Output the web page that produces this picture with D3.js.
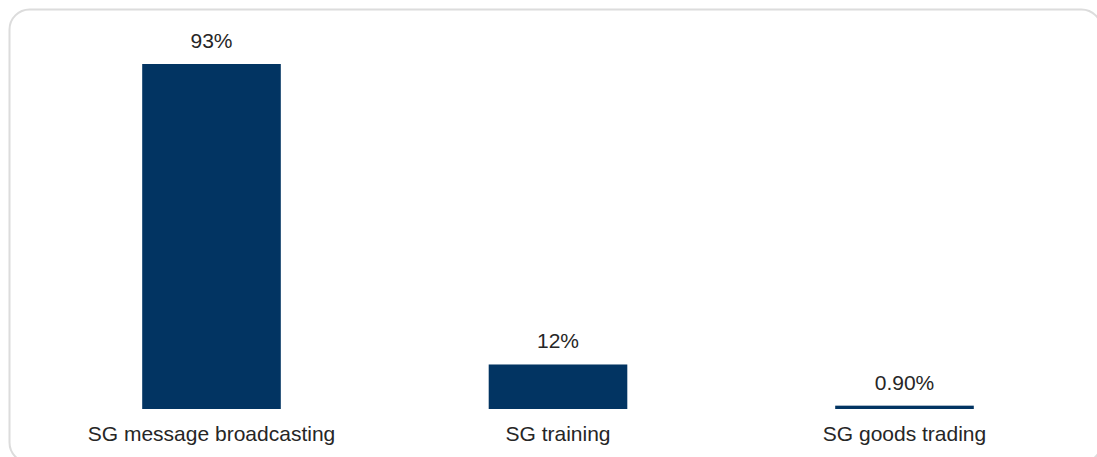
<!DOCTYPE html>
<html>
<head>
<meta charset="utf-8">
<script src="https://cdn.jsdelivr.net/npm/d3@7"></script>
<style>
  html, body { margin: 0; padding: 0; background: #fff; overflow: hidden; }
  svg { display: block; }
</style>
</head>
<body>
<div id="chart"></div>
<script>
// chart data
const categories = ["SG message broadcasting", "SG training", "SG goods trading"];
const values = [93, 12, 0.9];
const valueLabels = ["93%", "12%", "0.90%"];

// layout
const WIDTH = 1097;
const HEIGHT = 457;
const BASELINE = 409;
const TOP = 64;
const FONT = "'Liberation Sans', Arial, sans-serif";

const svg = d3.select("#chart")
    .append("svg")
    .attr("width", WIDTH)
    .attr("height", HEIGHT);

// rounded frame (runs off the right and bottom edges)
svg.append("rect")
    .attr("x", 9.5)
    .attr("y", 9.5)
    .attr("width", 1092)
    .attr("height", 453)
    .attr("rx", 20)
    .attr("fill", "#fff")
    .attr("stroke", "#dcdcdc")
    .attr("stroke-width", 2);

const xScale = d3.scaleBand()
    .domain(categories)
    .range([38.25, 1077.75])
    .paddingInner(0.6)
    .paddingOuter(0.3);

const yScale = d3.scaleLinear()
    .domain([0, 93])
    .range([BASELINE, TOP]);

const data = categories.map((c, i) => ({ cat: c, v: values[i], label: valueLabels[i] }));

// bars
svg.selectAll(".bar")
    .data(data)
    .enter()
    .append("rect")
    .attr("class", "bar")
    .attr("x", d => xScale(d.cat))
    .attr("width", xScale.bandwidth())
    .attr("y", d => yScale(d.v))
    .attr("height", d => Math.max(2, BASELINE - yScale(d.v)))
    .attr("fill", "#023462");

// value labels
svg.selectAll(".val")
    .data(data)
    .enter()
    .append("text")
    .attr("class", "val")
    .attr("x", d => xScale(d.cat) + xScale.bandwidth() / 2)
    .attr("y", d => Math.min(yScale(d.v), BASELINE - 2) - 16)
    .attr("text-anchor", "middle")
    .attr("font-family", FONT)
    .attr("font-size", 21)
    .attr("fill", "#262626")
    .text(d => d.label);

// category axis labels
const xAxis = d3.axisBottom(xScale).tickSize(0).tickPadding(17);
const gx = svg.append("g")
    .attr("transform", `translate(0, ${BASELINE})`)
    .call(xAxis);
gx.select(".domain").remove();
gx.selectAll("text")
    .attr("font-family", FONT)
    .attr("font-size", 21)
    .attr("fill", "#262626");
</script>
</body>
</html>
